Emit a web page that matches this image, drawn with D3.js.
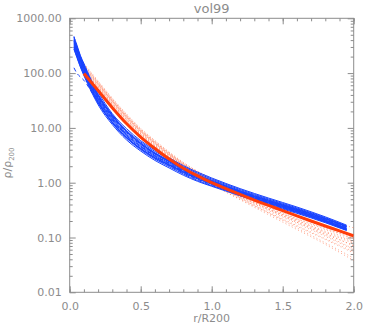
<!DOCTYPE html>
<html><head><meta charset="utf-8">
<script src="https://cdn.jsdelivr.net/npm/d3@7"></script>
<style>body{margin:0;background:#fff}svg{display:block}text{font-family:"DejaVu Sans",sans-serif;fill:#8c8c8c}</style>
</head><body><svg id="c" width="374" height="332"></svg>
<script>
const title = "vol99";
const xTicks = [0, 0.5, 1.0, 1.5, 2.0];
const yTicks = [0.01, 0.1, 1, 10, 100, 1000];
const yTickLabels = ["0.01", "0.10", "1.00", "10.00", "100.00", "1000.00"];

const meanX = [0.1,0.2,0.3,0.4,0.5,0.6,0.7,0.8,0.9,1.0,1.1,1.2,1.3,1.4,1.5,1.6,1.7,1.8,1.9,2.0];
const meanRed = [98,48,23.4,12,6.8,4.2,2.7,1.84,1.33,1.0,0.78,0.61,0.48,0.385,0.31,0.248,0.2,0.162,0.132,0.107];

const dotX = [0.1,0.2,0.3,0.4,0.5,0.6,0.8,1.0,1.2,1.4,1.6,1.8,2.0];
const dotted = [
 [140,70,34,17.5,9.6,5.8,2.3,1.15,0.66,0.40,0.25,0.16,0.10],
 [125,63,31,16,8.8,5.3,2.2,1.1,0.62,0.37,0.22,0.14,0.085],
 [115,58,29,15,8.3,5.0,2.1,1.05,0.58,0.34,0.20,0.12,0.07],
 [150,72,35,18,9.8,5.9,2.35,1.12,0.60,0.33,0.19,0.11,0.062],
 [105,55,27,14,7.8,4.7,2.0,1.02,0.57,0.35,0.22,0.145,0.095],
 [130,66,32,16.5,9.0,5.4,2.15,1.0,0.52,0.29,0.165,0.095,0.055],
 [110,56,28,14.5,8.0,4.8,2.0,0.98,0.55,0.33,0.205,0.13,0.082],
 [145,68,33,16.8,9.2,5.5,2.2,1.02,0.53,0.28,0.15,0.08,0.042],
 [120,60,30,15.4,8.5,5.1,2.1,1.06,0.61,0.38,0.245,0.16,0.105],
 [100,52,26,13.5,7.5,4.5,1.95,0.97,0.54,0.31,0.18,0.105,0.06],
 [135,64,31,15.8,8.6,5.2,2.05,0.95,0.49,0.26,0.14,0.075,0.038],
 [118,62,31,16.2,9.0,5.5,2.3,1.2,0.75,0.48,0.32,0.215,0.15],
 [108,54,27,14,7.7,4.6,1.92,0.93,0.50,0.28,0.16,0.092,0.052],
 [128,62,30.5,15.6,8.6,5.2,2.12,1.08,0.62,0.38,0.24,0.15,0.095],
 [112,57,28,14.3,7.9,4.8,2.0,1.0,0.56,0.32,0.19,0.115,0.072],
 [138,67,33,17,9.3,5.6,2.25,1.1,0.61,0.35,0.21,0.125,0.078]
];

const blueX = [0.03,0.05,0.075,0.1,0.15,0.2,0.3,0.4,0.5,0.6,0.7,0.8,0.9,1.0,1.2,1.4,1.6,1.8,1.95];
const blueSolid = [
 [455,330,210,150,77,45,18.2,9.7,5.85,3.95,2.85,2.05,1.56,1.22,0.78,0.525,0.36,0.238,0.168],
 [420,300,198,138,72,41,17.4,9.0,5.55,3.72,2.7,1.96,1.49,1.17,0.75,0.505,0.347,0.23,0.163],
 [392,282,184,129,67,38,16.2,8.5,5.25,3.48,2.54,1.85,1.41,1.12,0.72,0.487,0.336,0.223,0.159],
 [368,262,173,121,63,35.8,15.2,8.0,4.95,3.3,2.42,1.76,1.34,1.07,0.70,0.475,0.328,0.218,0.156],
 [350,250,165,115,60,34,14.5,7.6,4.7,3.15,2.3,1.68,1.28,1.02,0.67,0.455,0.315,0.21,0.15],
 [332,238,157,109,57,32.2,13.8,7.2,4.48,3.0,2.19,1.6,1.22,0.975,0.643,0.44,0.305,0.204,0.146],
 [315,225,149,104,54,30.6,13.0,6.85,4.25,2.85,2.08,1.52,1.17,0.935,0.62,0.425,0.295,0.197,0.141],
 [298,212,140,98,51,29,12.3,6.5,4.0,2.7,1.97,1.44,1.1,0.885,0.60,0.41,0.285,0.191,0.137],
 [272,195,129,90,47,26.5,11.5,6.05,3.78,2.55,1.86,1.37,1.06,0.86,0.575,0.395,0.276,0.186,0.134],
 [440,312,204,142,73,40.5,17,8.7,5.2,3.4,2.42,1.72,1.28,1.0,0.645,0.43,0.295,0.195,0.138],
 [280,200,133,94,49.5,28.5,12.4,6.6,4.15,2.85,2.12,1.58,1.23,0.99,0.665,0.462,0.325,0.22,0.16],
 [400,288,190,132,69,39,16.6,8.6,5.25,3.5,2.5,1.8,1.36,1.07,0.69,0.46,0.312,0.204,0.143]
];
const blueDashed = [
 [125,100,85,74,47,28.5,12.5,6.7,4.2,2.85,2.1,1.55,1.19,0.96,0.64,0.44,0.305,0.205,0.147],
 [385,270,178,124,65,36.5,15.7,8.2,5.05,3.38,2.46,1.79,1.36,1.08,0.70,0.472,0.326,0.217,0.155],
 [300,215,143,100,52.5,29.8,12.7,6.7,4.15,2.8,2.05,1.5,1.15,0.92,0.61,0.418,0.29,0.195,0.14],
 [470,300,180,120,60,33,14,7.4,4.6,3.08,2.25,1.64,1.25,1.0,0.66,0.448,0.31,0.207,0.148]
];

const L = 69.7, R = 353.7, T = 18.3, B = 292.3;
const svg = d3.select("#c");
const x = d3.scaleLinear().domain([0, 2]).range([L, R]);
const y = d3.scaleLog().domain([0.01, 1000]).range([B, T]);
const axisCol = "#8c8c8c";

const g = svg.append("g");
svg.append("clipPath").attr("id", "cp").append("rect")
  .attr("x", L).attr("y", T).attr("width", R - L).attr("height", B - T);
const plot = svg.append("g").attr("clip-path", "url(#cp)");

function mk(xs) { return d3.line().x((d, i) => x(xs[i])).y(d => y(d)).curve(d3.curveMonotoneX); }

dotted.forEach(s => plot.append("path").attr("d", mk(dotX)(s)).attr("fill", "none")
  .attr("stroke", "#ff7a55").attr("stroke-width", 0.9).attr("stroke-dasharray", "1,2.5").attr("opacity", 0.75));
blueSolid.forEach(s => plot.append("path").attr("d", mk(blueX)(s)).attr("fill", "none")
  .attr("stroke", "#1843ff").attr("stroke-width", 1.0));
blueDashed.forEach(s => plot.append("path").attr("d", mk(blueX)(s)).attr("fill", "none")
  .attr("stroke", "#1843ff").attr("stroke-width", 1.0).attr("stroke-dasharray", "4,3"));
plot.append("path").attr("d", mk(meanX)(meanRed)).attr("fill", "none")
  .attr("stroke", "#ff3d0a").attr("stroke-width", 3);

g.append("rect").attr("x", L).attr("y", T).attr("width", R - L).attr("height", B - T)
  .attr("fill", "none").attr("stroke", axisCol).attr("stroke-width", 1);

const xMinor = d3.range(0, 2.0001, 0.1).map(v => +v.toFixed(2));
const axB = d3.axisBottom(x).tickValues(xMinor).tickSize(-3).tickFormat("");
const axBM = d3.axisBottom(x).tickValues(xTicks).tickSize(-6).tickFormat(d3.format(".1f")).tickPadding(10);
const axT = d3.axisTop(x).tickValues(xMinor).tickSize(-3).tickFormat("");
const axTM = d3.axisTop(x).tickValues(xTicks).tickSize(-6).tickFormat("");
const yMinor = [];
[0.01, 0.1, 1, 10, 100].forEach(d => { for (let k = 2; k <= 9; k++) yMinor.push(d * k); });
const axL = d3.axisLeft(y).tickValues(yMinor).tickSize(-3).tickFormat("");
const axLM = d3.axisLeft(y).tickValues(yTicks).tickSize(-6).tickFormat((d, i) => yTickLabels[i]).tickPadding(8);
const axR = d3.axisRight(y).tickValues(yMinor).tickSize(-3).tickFormat("");
const axRM = d3.axisRight(y).tickValues(yTicks).tickSize(-6).tickFormat("");

[[axB, `translate(0,${B})`], [axBM, `translate(0,${B})`], [axT, `translate(0,${T})`], [axTM, `translate(0,${T})`],
 [axL, `translate(${L},0)`], [axLM, `translate(${L},0)`], [axR, `translate(${R},0)`], [axRM, `translate(${R},0)`]]
.forEach(([a, t]) => {
  const gg = g.append("g").attr("transform", t).call(a);
  gg.select(".domain").remove();
  gg.selectAll("line").attr("stroke", axisCol);
  gg.selectAll("text").attr("fill", "#8c8c8c").style("font-size", "11px").style("font-family", "DejaVu Sans, sans-serif");
});

svg.append("text").attr("x", (L + R) / 2).attr("y", 13).attr("text-anchor", "middle")
  .style("font-size", "13px").text(title);
svg.append("text").attr("x", (L + R) / 2).attr("y", 322).attr("text-anchor", "middle")
  .style("font-size", "11px").text("r/R200");
const yl = svg.append("text").attr("transform", "translate(11,163) rotate(-90)").attr("text-anchor", "middle")
  .style("font-size", "11px");
yl.append("tspan").text("ρ/ρ");
yl.append("tspan").attr("dy", 3).style("font-size", "7px").text("200");
</script></body></html>
